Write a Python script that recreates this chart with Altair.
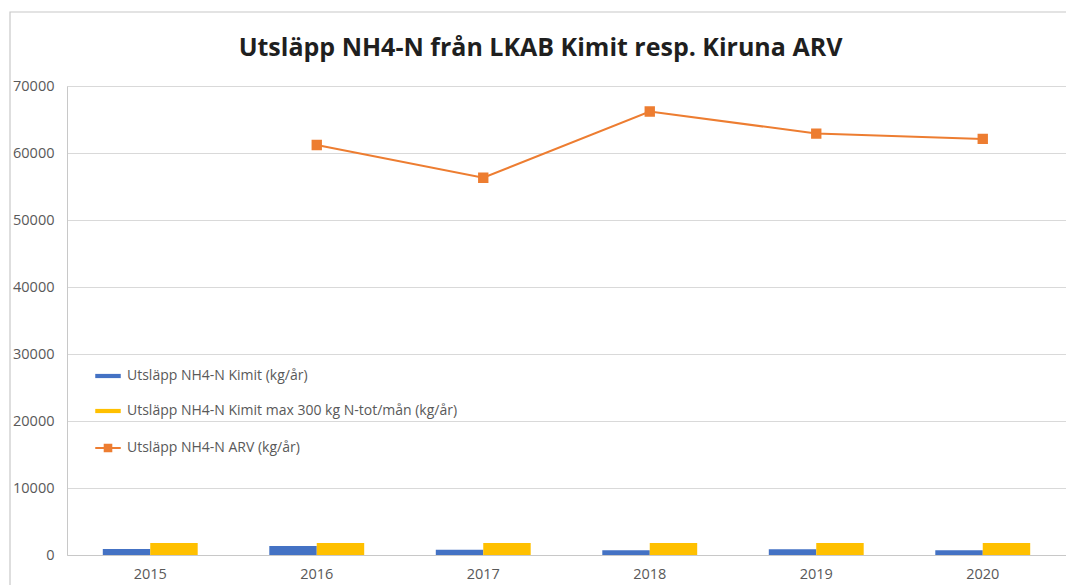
import altair as alt
import pandas as pd

years = ["2015", "2016", "2017", "2018", "2019", "2020"]
kimit = [900, 1350, 800, 700, 850, 700]
kimit_max = [1800, 1800, 1800, 1800, 1800, 1800]
arv_years = ["2016", "2017", "2018", "2019", "2020"]
arv = [61200, 56300, 66200, 62900, 62100]

s_blue = "Utsläpp NH4-N Kimit (kg/år)"
s_yellow = "Utsläpp NH4-N Kimit max 300 kg N-tot/mån (kg/år)"
s_line = "Utsläpp NH4-N ARV (kg/år)"

bars_df = pd.DataFrame({
    "year": years + years,
    "bar_series": [s_blue] * len(years) + [s_yellow] * len(years),
    "value": kimit + kimit_max,
})
line_df = pd.DataFrame({"year": arv_years, "line_series": [s_line] * len(arv_years), "value": arv})

FONT = "Open Sans"
LBL = "#595959"

xscale = alt.Scale(domain=years, paddingInner=0.43, paddingOuter=0.215)
yscale = alt.Scale(domain=[0, 70000], nice=False)

border = alt.Chart(pd.DataFrame({"a": [0]})).mark_rect(
    fill=None, stroke="#c8c8c8", strokeWidth=1.2
).encode(
    x=alt.value(-57), x2=alt.value(1030), y=alt.value(-74), y2=alt.value(560)
)

bars = alt.Chart(bars_df).mark_bar().encode(
    x=alt.X("year:N", scale=xscale, title=None,
            axis=alt.Axis(labelAngle=0, ticks=False, domainColor="#c8c8c8",
                          labelPadding=12, labelFontSize=14.5, labelColor=LBL, labelFont=FONT)),
    xOffset=alt.XOffset("bar_series:N", scale=alt.Scale(domain=[s_blue, s_yellow])),
    y=alt.Y("value:Q", scale=yscale, title=None,
            axis=alt.Axis(values=list(range(0, 70001, 10000)), format="d", ticks=False,
                          domainColor="#c8c8c8", gridColor="#d9d9d9", labelPadding=13,
                          labelFontSize=14.5, labelColor=LBL, labelFont=FONT)),
    color=alt.Color("bar_series:N",
                    scale=alt.Scale(domain=[s_blue, s_yellow], range=["#4472C4", "#FFC000"]),
                    legend=alt.Legend(title=None, orient="none", legendX=25, legendY=274,
                                      symbolType="M-0.85,-0.14H0.85V0.14H-0.85Z", symbolSize=900,
                                      rowPadding=12, labelOffset=3, padding=0, labelLimit=600,
                                      labelFont=FONT, labelFontSize=14, labelColor=LBL)),
)

line = alt.Chart(line_df).mark_line(
    strokeWidth=2,
    point=alt.OverlayMarkDef(shape="square", size=70, filled=True, color="#ED7D31"),
).encode(
    x=alt.X("year:N", scale=xscale),
    y=alt.Y("value:Q", scale=yscale),
    stroke=alt.Stroke("line_series:N",
                      scale=alt.Scale(domain=[s_line], range=["#ED7D31"]),
                      legend=alt.Legend(title=None, orient="none", legendX=25, legendY=346,
                                        symbolType="M-0.85,0H0.85M-0.22,-0.22H0.22V0.22H-0.22Z",
                                        symbolSize=900, symbolStrokeWidth=2,
                                        symbolFillColor="#ED7D31", labelOffset=3, padding=0,
                                        labelLimit=600,
                                        labelFont=FONT, labelFontSize=14, labelColor=LBL)),
)

chart = alt.layer(border, bars, line).properties(
    width=999,
    height=469,
    title=alt.TitleParams("Utsläpp NH4-N från LKAB Kimit resp. Kiruna ARV",
                          font=FONT, fontSize=25, fontWeight="bold", color="#1f1f1f",
                          anchor="middle", frame="group", dx=-26, offset=-50),
    autosize=alt.AutoSizeParams(type="none"),
    padding={"left": 59, "top": 78, "right": 0, "bottom": 30},
).configure_view(stroke=None).configure(background="white")

chart.save("out.html", embed_options={"renderer": "svg", "actions": False})
